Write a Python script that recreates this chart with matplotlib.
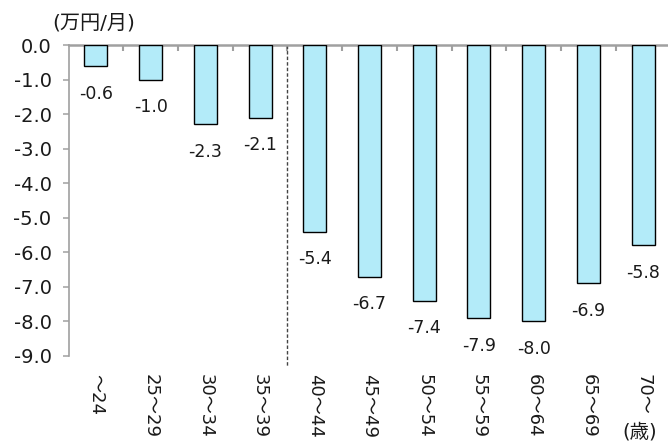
import matplotlib
matplotlib.use("Agg")
import matplotlib.pyplot as plt
import numpy as np

plt.rcParams['font.family'] = ['DejaVu Sans', 'Noto Sans CJK JP']

categories = ["～24", "25～29", "30～34", "35～39", "40～44", "45～49",
              "50～54", "55～59", "60～64", "65～69", "70～"]
values = [-0.6, -1.0, -2.3, -2.1, -5.4, -6.7, -7.4, -7.9, -8.0, -6.9, -5.8]
yticks = [0.0, -1.0, -2.0, -3.0, -4.0, -5.0, -6.0, -7.0, -8.0, -9.0]
unit_label = "(万円/月)"
age_label = "(歳)"

fig = plt.figure(figsize=(6.68, 4.43), dpi=100)
ax = fig.add_axes([0.1027, 0.1964, 0.9010, 0.7020])

x = np.arange(len(categories))
ax.bar(x, values, width=0.42, color="#b3ebf9", edgecolor="black", linewidth=1.0, zorder=3)

for xi, v in zip(x, values):
    ax.annotate(f"{v:.1f}", xy=(xi, v), xytext=(0, -20), textcoords="offset points",
                ha="center", va="center", fontsize=12.5, color="#1a1a1a",
                annotation_clip=False)

ax.set_xlim(-0.5, len(categories) - 0.5)
ax.set_ylim(-9.0, 0.0)

ax.set_yticks(yticks)
ax.set_yticklabels([f"{t:.1f}" for t in yticks], fontsize=14, color="#1a1a1a")
ax.tick_params(axis="y", direction="out", length=4.3, width=1.1, color="#a0a0a0", pad=8)

ax.set_xticks(x)
ax.set_xticklabels(categories, rotation=-90, fontsize=13, family=['DejaVu Sans', 'Noto Sans CJK JP'],
                   va="top", ha="center", color="#1a1a1a")
ax.tick_params(axis="x", which="major", bottom=True, top=False, length=0, pad=13)

# boundary ticks on the zero line (top)
ax.set_xticks(np.arange(0.5, len(categories) - 0.5, 1.0), minor=True)
ax.tick_params(axis="x", which="minor", bottom=False, top=True, direction="in",
               length=4, width=1.5, color="#a0a0a0")

for s in ["right", "bottom"]:
    ax.spines[s].set_visible(False)
ax.spines["top"].set_color("#a0a0a0")
ax.spines["top"].set_linewidth(1.8)
ax.spines["left"].set_color("#a0a0a0")
ax.spines["left"].set_linewidth(1.2)

# dashed separator
ax.plot([3.5, 3.5], [0, -9.3], linestyle=(0, (2.5, 1.5)), color="#444444",
        linewidth=1.0, clip_on=False, zorder=2)

fig.text(0.078, 0.948, unit_label, fontsize=14.5, family=['DejaVu Sans', 'Noto Sans CJK JP'],
         ha="left", va="center", color="#1a1a1a")
fig.text(0.958, 0.025, age_label, fontsize=14, family=['DejaVu Sans', 'Noto Sans CJK JP'],
         ha="center", va="center", color="#1a1a1a")

fig.savefig("out.png", dpi=100)
